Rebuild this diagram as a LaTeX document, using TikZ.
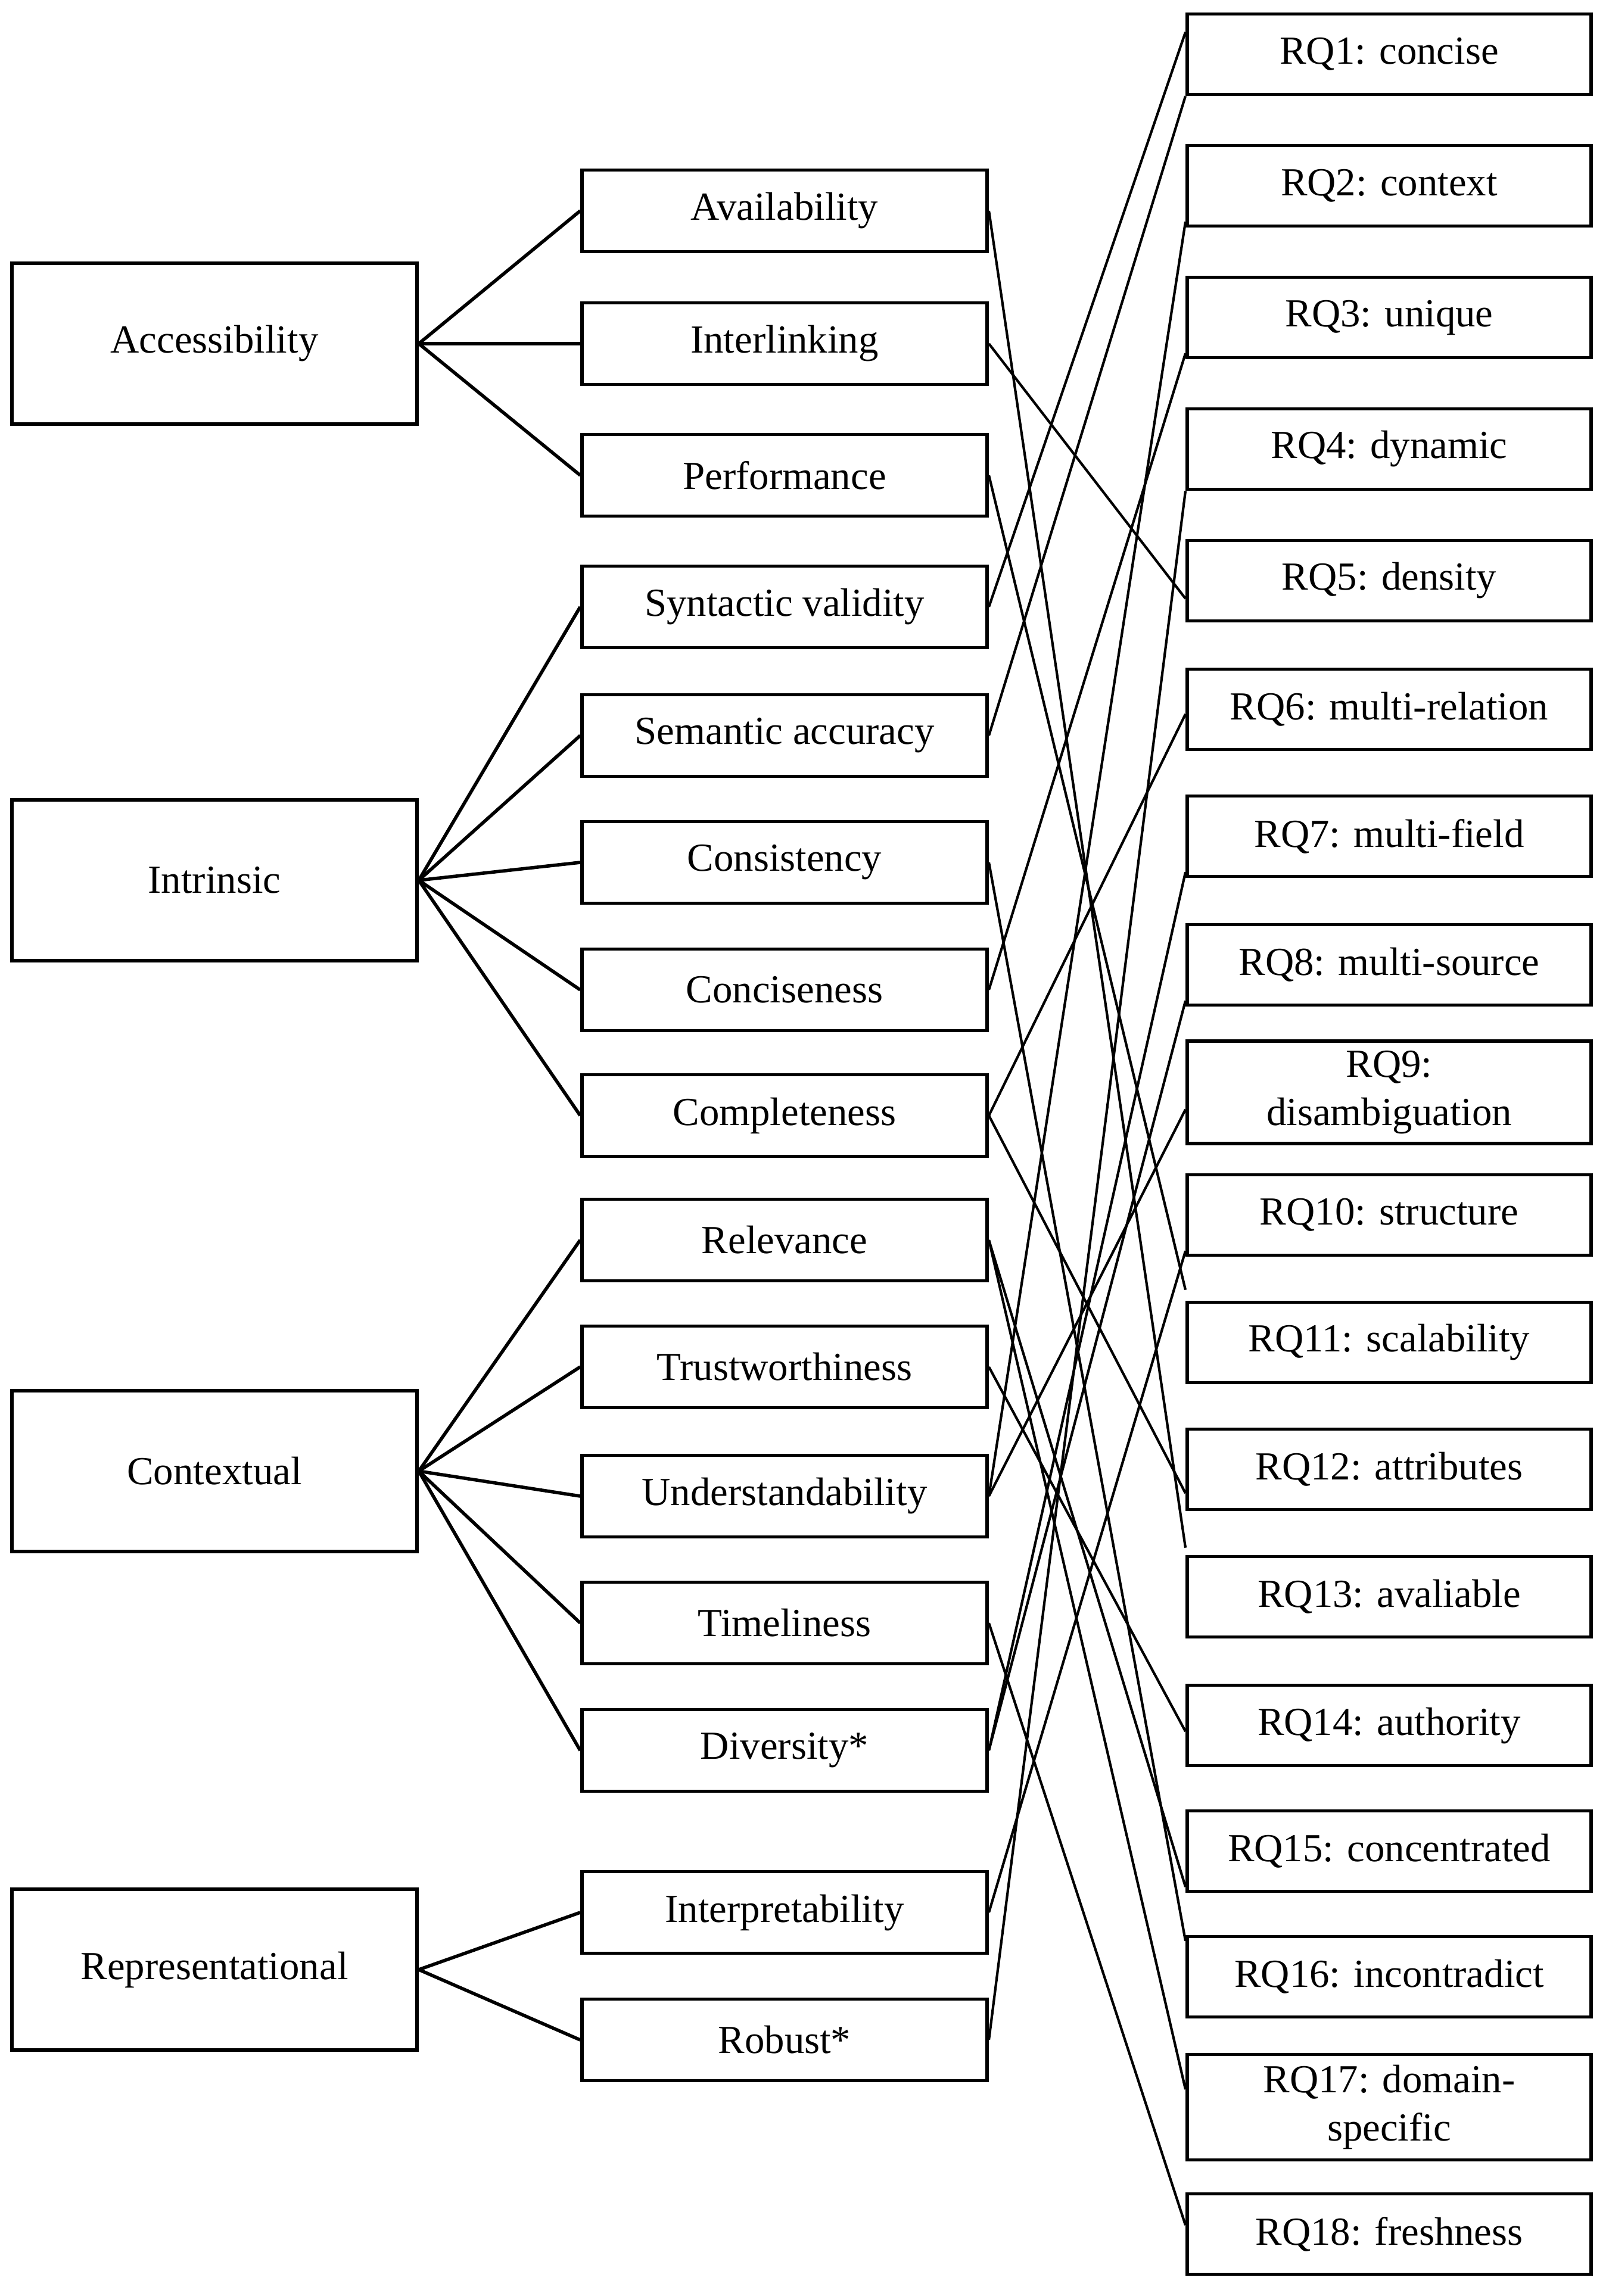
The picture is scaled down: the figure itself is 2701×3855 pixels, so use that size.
\documentclass[tikz,border=0pt]{standalone}
\usepackage{fontspec}
\setmainfont{Liberation Serif}
\begin{document}
\begin{tikzpicture}[x=0.01cm,y=-0.01cm,
  box/.style={draw,line width=1.6pt,inner sep=0pt,align=center,font=\fontsize{19}{23}\selectfont},
  cat/.style={box,minimum width=6.8cm,minimum height=2.7cm},
  mid/.style={box,minimum width=6.8cm,minimum height=1.37cm},
  rq/.style={box,minimum width=6.78cm,minimum height=1.35cm},
  lk/.style={line width=1.6pt},
  ln/.style={line width=1.2pt}]
\useasboundingbox (0,0) rectangle (2701,3855);
% left
\node[cat] (acc) at (360,577) {Accessibility};
\node[cat] (intr) at (360,1478) {Intrinsic};
\node[cat] (ctx) at (360,2470) {Contextual};
\node[cat] (rep) at (360,3307) {Representational};
% middle
\node[mid] (m1) at (1317,354) {Availability};
\node[mid] (m2) at (1317,577) {Interlinking};
\node[mid] (m3) at (1317,798) {Performance};
\node[mid] (m4) at (1317,1019) {Syntactic validity};
\node[mid] (m5) at (1317,1235) {Semantic accuracy};
\node[mid] (m6) at (1317,1448) {Consistency};
\node[mid] (m7) at (1317,1662) {Conciseness};
\node[mid] (m8) at (1317,1873) {Completeness};
\node[mid] (m9) at (1317,2082) {Relevance};
\node[mid] (m10) at (1317,2295) {Trustworthiness};
\node[mid] (m11) at (1317,2512) {Understandability};
\node[mid] (m12) at (1317,2725) {Timeliness};
\node[mid] (m13) at (1317,2939) {Diversity*};
\node[mid] (m14) at (1317,3211) {Interpretability};
\node[mid] (m15) at (1317,3425) {Robust*};
% right
\node[rq] (r1) at (2332,91) {RQ1: concise};
\node[rq] (r2) at (2332,312) {RQ2: context};
\node[rq] (r3) at (2332,533) {RQ3: unique};
\node[rq] (r4) at (2332,754) {RQ4: dynamic};
\node[rq] (r5) at (2332,975) {RQ5: density};
\node[rq] (r6) at (2332,1191) {RQ6: multi-relation};
\node[rq] (r7) at (2332,1404) {RQ7: multi-field};
\node[rq] (r8) at (2332,1620) {RQ8: multi-source};
\node[rq,minimum height=1.72cm] (r9) at (2332,1834) {RQ9:\\disambiguation};
\node[rq] (r10) at (2332,2040) {RQ10: structure};
\node[rq] (r11) at (2332,2254) {RQ11: scalability};
\node[rq] (r12) at (2332,2467) {RQ12: attributes};
\node[rq] (r13) at (2332,2681) {RQ13: avaliable};
\node[rq] (r14) at (2332,2897) {RQ14: authority};
\node[rq] (r15) at (2332,3108) {RQ15: concentrated};
\node[rq] (r16) at (2332,3319) {RQ16: incontradict};
\node[rq,minimum height=1.77cm] (r17) at (2332,3538) {RQ17: domain-\\specific};
\node[rq] (r18) at (2332,3751) {RQ18: freshness};
% left to middle
\foreach \m in {m1,m2,m3} \draw[lk] (acc.east) -- (\m.west);
\foreach \m in {m4,m5,m6,m7,m8} \draw[lk] (intr.east) -- (\m.west);
\foreach \m in {m9,m10,m11,m12,m13} \draw[lk] (ctx.east) -- (\m.west);
\foreach \m in {m14,m15} \draw[lk] (rep.east) -- (\m.west);
% middle to right
\draw[ln] (m1.east) -- ([yshift=0.12cm]r13.north west);
\draw[ln] (m2.east) -- ([yshift=-0.3cm]r5.west);
\draw[ln] (m3.east) -- ([yshift=0.18cm]r11.north west);
\draw[ln] (m4.east) -- ([yshift=0.37cm]r1.west);
\draw[ln] (m5.east) -- (r1.south west);
\draw[ln] (m6.east) -- ([yshift=-0.1cm]r16.north west);
\draw[ln] (m7.east) -- ([yshift=0.1cm]r3.south west);
\draw[ln] (m8.east) -- ([yshift=-0.08cm]r6.west);
\draw[ln] (m8.east) -- ([yshift=-0.4cm]r12.west);
\draw[ln] (m9.east) -- ([yshift=-0.6cm]r15.west);
\draw[ln] (m9.east) -- ([yshift=0.3cm]r17.west);
\draw[ln] (m10.east) -- ([yshift=-0.1cm]r14.west);
\draw[ln] (m11.east) -- ([yshift=0.1cm]r2.south west);
\draw[ln] (m11.east) -- ([yshift=0.6cm]r9.south west);
\draw[ln] (m12.east) -- ([yshift=0.15cm]r18.west);
\draw[ln] (m13.east) -- ([yshift=0.1cm]r7.south west);
\draw[ln] (m13.east) -- ([yshift=0.1cm]r8.south west);
\draw[ln] (m14.east) -- ([yshift=0.1cm]r10.south west);
\draw[ln] (m15.east) -- (r4.south west);
\end{tikzpicture}
\end{document}
